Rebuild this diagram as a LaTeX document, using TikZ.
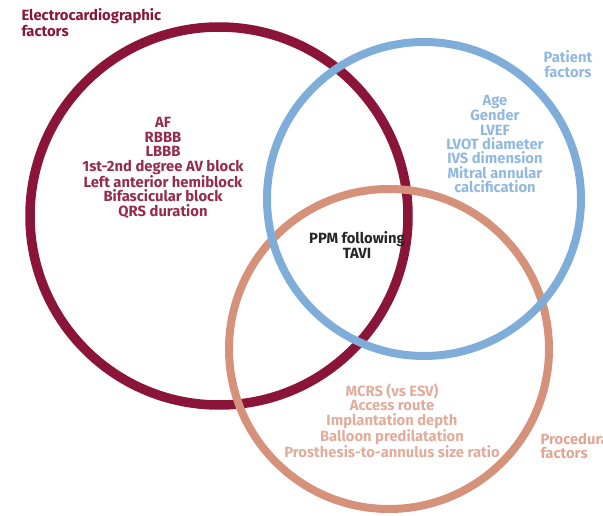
\documentclass[tikz,border=0pt]{standalone}
\usepackage{fontspec}
\setmainfont{Fira Sans}

\definecolor{ecgred}{HTML}{8A1538}
\definecolor{patblue}{HTML}{7EADD9}
\definecolor{procsalmon}{HTML}{D6917B}

\begin{document}
\begin{tikzpicture}[x=1pt, y=-1pt,
    factor/.style={circle, draw, line width=8pt, inner sep=0pt},
    items/.style={align=center, font=\bfseries\fontsize{14.8}{14.4}\selectfont},
    heading/.style={align=center, font=\bfseries\fontsize{14.8}{14.4}\selectfont}]
     \useasboundingbox (0,0) rectangle (603,516);

     \node[factor, ecgred, line width=9.5pt, minimum size=378pt] (ecg)  at (219,216) {};
     \node[factor, procsalmon, minimum size=320pt]               (proc) at (389,349) {};
     \node[factor, patblue, minimum size=314pt]                  (pat)  at (424,199) {};

     \node[heading, align=left, anchor=north west, text=ecgred] (ecghead) at (18,5)
       {Electrocardiographic\\factors};
     \node[heading, text=patblue!85] (pathead) at (568,64) {Patient\\factors};
     \node[heading, align=left, anchor=west, text=procsalmon!80] (prochead) at (537,446)
       {Procedural\\factors};

     \node[items, text=ecgred!90] (ecglist) at (163,168) {%
       AF\\ RBBB\\ LBBB\\ 1st-2nd degree AV block\\ Left anterior hemiblock\\
       Bifascicular block\\ QRS duration};
     \node[items, text=patblue!85] (patlist) at (495,144) {%
       Age\\ Gender\\ LVEF\\ LVOT diameter\\ IVS dimension\\ Mitral annular\\ calcification};
     \node[items, text=black!85] (ppm) at (357,245) {PPM following\\ TAVI};
     \node[items, text=procsalmon!75] (proclist) at (392,421) {%
       MCRS (vs ESV)\\ Access route\\ Implantation depth\\ Balloon predilatation\\
       Prosthesis-to-annulus size ratio};
\end{tikzpicture}
\end{document}
